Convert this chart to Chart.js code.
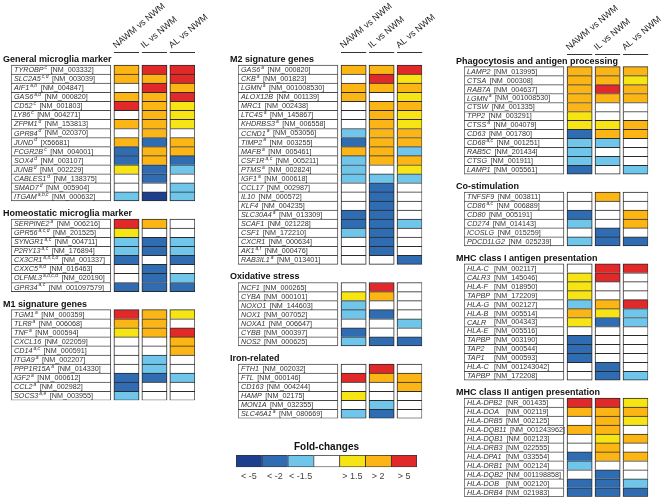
<!DOCTYPE html>
<html>
<head>
<meta charset="utf-8">
<title>Microglia gene expression fold-changes</title>
<script src="https://cdn.jsdelivr.net/npm/chart.js@4.4.1/dist/chart.umd.min.js"></script>
<style>
  html, body { margin: 0; padding: 0; background: #fff; }
  #wrap { position: relative; width: 670px; height: 499px; overflow: hidden; }
  #wrap canvas { position: absolute; }
</style>
</head>
<body>
<div id="wrap">
  <canvas id="col1" width="225" height="499" style="left:0;top:0"></canvas>
  <canvas id="col2" width="222" height="499" style="left:225px;top:0"></canvas>
  <canvas id="col3" width="223" height="499" style="left:447px;top:0"></canvas>
  <canvas id="legend" width="200" height="52" style="left:226px;top:436px"></canvas>
</div>
<script>
// Fold-change classes: -3 = < -5, -2 = < -2, -1 = < -1.5, 0 = unchanged, 1 = > 1.5, 2 = > 2, 3 = > 5
const comparisons = ['NAWM vs NWM', 'IL vs NWM', 'AL vs NWM'];
const foldClasses = [-3, -2, -1, 0, 1, 2, 3];
const foldLabels = ['< -5', '< -2', '< -1.5', '', '> 1.5', '> 2', '> 5'];
const foldColors = ['#1e3f8e', '#2f6cb2', '#6fc5ea', '#ffffff', '#f6e414', '#fbb616', '#e1292a'];

// General microglia marker
const generalGenes = ['TYROBP', 'SLC2A5', 'AIF1', 'GAS6', 'CD52', 'LY86', 'ZFPM1', 'GPR84', 'JUND', 'FCGR2B', 'SOX4', 'JUNB', 'CABLES1', 'SMAD7', 'ITGAM'];
const generalSup = ['c', 'c,d', 'a,b', 'a,d', 'c', 'c', 'd', 'd', 'd', 'c', 'd', 'd', 'd', 'd', 'a,b,c'];
const generalAcc = ['NM_003332', 'NM_003039', 'NM_004847', 'NM_000820', 'NM_001803', 'NM_004271', 'NM_153813', 'NM_020370', 'X56681', 'NM_004001', 'NM_003107', 'NM_002229', 'NM_138375', 'NM_005904', 'NM_000632'];
const generalNAWM = [2, 2, 0, 2, 3, 0, 2, 0, 2, -2, -2, 1, 0, 0, -1];
const generalIL = [3, 2, 3, 2, 2, 2, 2, 2, -2, 2, 2, -2, -2, 0, -3];
const generalAL = [3, 3, 2, 3, 1, 1, 1, 0, 2, 2, -2, -1, 0, -1, -1];

// Homeostatic microglia marker
const homeoGenes = ['SERPINE2', 'GPR56', 'SYNGR1', 'P2RY13', 'CX3CR1', 'CXXC5', 'OLFML3', 'GPR34'];
const homeoSup = ['a', 'a,c,d', 'a,c', 'a,c', 'a,b,c,d', 'a,d', 'a,b,c,d', 'a,c'];
const homeoAcc = ['NM_006216', 'NM_201525', 'NM_004711', 'NM_176894', 'NM_001337', 'NM_016463', 'NM_020190', 'NM_001097579'];
const homeoNAWM = [3, 1, -1, -1, -2, 0, 0, -2];
const homeoIL = [2, 0, -2, -2, 0, -2, -2, -2];
const homeoAL = [0, 0, -1, -1, -2, 0, -1, -2];

// M1 signature genes
const m1Genes = ['TGM1', 'TLR8', 'TNF', 'CXCL16', 'CD14', 'ITGA9', 'PPP1R15A', 'IGF2', 'CCL2', 'SOCS3'];
const m1Sup = ['a', 'a', 'a', '', 'a,c', 'a', 'a', 'a', 'a', 'a,e'];
const m1Acc = ['NM_000359', 'NM_006068', 'NM_000594', 'NM_022059', 'NM_000591', 'NM_002207', 'NM_014330', 'NM_000612', 'NM_002982', 'NM_003955'];
const m1NAWM = [3, 2, 1, 0, 0, 0, 0, -2, -2, -1];
const m1IL = [2, 2, 2, 0, 0, -1, -1, -2, 0, 0];
const m1AL = [1, 0, 3, 2, 2, 0, 0, -1, 0, 0];

// M2 signature genes
const m2Genes = ['GAS6', 'CKB', 'LGMN', 'ALOX12B', 'MRC1', 'LTC4S', 'KHDRBS3', 'CCND1', 'TIMP2', 'MAFB', 'CSF1R', 'PTMS', 'IGF1', 'CCL17', 'IL10', 'KLF4', 'SLC30A4', 'SCAF1', 'CSF1', 'CXCR1', 'AK1', 'RAB3IL1'];
const m2Sup = ['a', 'a', 'a', '', '', 'a', 'a', 'a', 'a', 'a', 'a,c', 'a', 'a', '', '', '', 'a', '', '', '', 'a,f', 'a'];
const m2Acc = ['NM_000820', 'NM_001823', 'NM_001008530', 'NM_001139', 'NM_002438', 'NM_145867', 'NM_006558', 'NM_053056', 'NM_003255', 'NM_005461', 'NM_005211', 'NM_002824', 'NM_000618', 'NM_002987', 'NM_000572', 'NM_004235', 'NM_013309', 'NM_021228', 'NM_172210', 'NM_000634', 'NM_000476', 'NM_013401'];
const m2NAWM = [2, 0, 2, 2, 0, 0, 0, -1, -2, 2, -1, -1, -1, 0, 0, 0, -2, -2, -1, 0, 0, 0];
const m2IL = [2, 3, 2, 0, 2, 2, 2, 2, 2, 2, 2, 0, -1, -2, -2, -2, -2, -2, -2, -2, -2, 0];
const m2AL = [3, 1, 2, 1, 2, 1, 1, 2, 2, -1, 2, 1, -1, 0, 0, 0, 0, -1, 0, 0, 0, -2];

// Oxidative stress
const oxGenes = ['NCF1', 'CYBA', 'NOXO1', 'NOX1', 'NOXA1', 'CYBB', 'NOS2'];
const oxSup = ['', '', '', '', '', '', ''];
const oxAcc = ['NM_000265', 'NM_000101', 'NM_144603', 'NM_007052', 'NM_006647', 'NM_000397', 'NM_000625'];
const oxNAWM = [0, 1, -1, -1, 0, -2, -1];
const oxIL = [3, 2, 0, -2, 0, 0, -2];
const oxAL = [0, 0, 0, 0, -1, 0, -2];

// Iron-related
const ironGenes = ['FTH1', 'FTL', 'CD163', 'HAMP', 'MON1A', 'SLC46A1'];
const ironSup = ['', '', '', '', '', 'a'];
const ironAcc = ['NM_002032', 'NM_000146', 'NM_004244', 'NM_02175', 'NM_032355', 'NM_080669'];
const ironNAWM = [0, 3, 0, 1, 0, -1];
const ironIL = [3, 2, 0, 0, -1, -2];
const ironAL = [0, 2, 2, 0, 0, 0];

// Phagocytosis and antigen processing
const phagoGenes = ['LAMP2', 'CTSA', 'RAB7A', 'LGMN', 'CTSW', 'TPP2', 'CTSS', 'CD63', 'CD68', 'RAB5C', 'CTSG', 'LAMP1'];
const phagoSup = ['', '', '', 'a', '', '', 'a', '', 'a,c', '', '', ''];
const phagoAcc = ['NM_013995', 'NM_000308', 'NM_004637', 'NM_001008530', 'NM_001335', 'NM_003291', 'NM_004079', 'NM_001780', 'NM_001251', 'NM_201434', 'NM_001911', 'NM_005561'];
const phagoNAWM = [2, 2, 2, 2, 2, 1, 1, -2, -1, -1, -1, -2];
const phagoIL = [2, 2, 3, 2, 0, 0, 1, 2, -1, 0, -1, 0];
const phagoAL = [2, 1, 2, 2, 0, 0, 2, 2, 0, 0, 0, -1];

// Co-stimulation
const costimGenes = ['TNFSF9', 'CD86', 'CD80', 'CD274', 'ICOSLG', 'PDCD1LG2'];
const costimSup = ['', 'a,c', '', '', '', ''];
const costimAcc = ['NM_003811', 'NM_006889', 'NM_005191', 'NM_014143', 'NM_015259', 'NM_025239'];
const costimNAWM = [0, 0, -2, -1, 0, -1];
const costimIL = [2, 0, 0, 0, -2, -2];
const costimAL = [0, 0, 2, 2, 0, -2];

// MHC class I antigen presentation
const mhc1Genes = ['HLA-C', 'CALR3', 'HLA-F', 'TAPBP', 'HLA-G', 'HLA-B', 'CALR', 'HLA-E', 'TAPBP', 'TAP2', 'TAP1', 'HLA-C', 'TAPBP'];
const mhc1Sup = ['', '', '', '', '', '', '', '', '', '', '', '', ''];
const mhc1Acc = ['NM_002117', 'NM_145046', 'NM_018950', 'NM_172209', 'NM_002127', 'NM_005514', 'NM_004343', 'NM_005516', 'NM_003190', 'NM_000544', 'NM_000593', 'NM_001243042', 'NM_172208'];
const mhc1NAWM = [0, 1, 1, 1, -1, 2, 1, 0, -2, -2, -2, 0, 0];
const mhc1IL = [3, 3, 0, 0, 2, 1, -2, 0, 0, 0, 0, -2, -2];
const mhc1AL = [3, 0, 0, 0, 3, -1, -1, 0, 0, 0, 0, 0, -1];

// MHC class II antigen presentation
const mhc2Genes = ['HLA-DPB2', 'HLA-DOA', 'HLA-DRB5', 'HLA-DQB11', 'HLA-DQB1', 'HLA-DRB3', 'HLA-DPA1', 'HLA-DRB1', 'HLA-DQB2', 'HLA-DOB', 'HLA-DRB4'];
const mhc2Sup = ['', '', '', '', '', '', '', '', '', '', ''];
const mhc2Acc = ['NR_001435', 'NM_002119', 'NM_002125', 'NM_001243962', 'NM_002123', 'NM_022555', 'NM_033554', 'NM_002124', 'NM_001198858', 'NM_002120', 'NM_021983'];
const mhc2NAWM = [3, 2, 0, 2, 0, 0, -2, -1, 0, -2, -2];
const mhc2IL = [3, 2, 2, 2, 1, 2, 2, 0, -2, -2, -2];
const mhc2AL = [1, 2, 1, 0, 2, 0, 2, 0, 0, -1, -2];

const FONT = '"Liberation Sans", Arial, sans-serif';
// x scale in cell-pitch units: label box from BOX_FROM to BOX_TO, cell j spans j .. j + CELL
const BOX_FROM = -3.68;
const BOX_TO = -0.11;
const CELL = 0.9;

function colorFor(level) {
    return foldColors[foldClasses.indexOf(level)] || '#ffffff';
}

function section(title, genes, sup, acc, nawm, il, al, accAt) {
    return { title, genes, sup, acc, values: [nawm, il, al], accAt };
}

function buildColumn(canvasId, sections, pad) {
    // one row per gene, plus a title row per section and a gap row between sections
    const rows = [];
    sections.forEach((s, k) => {
        if (k > 0) rows.push({ kind: 'gap' });
        rows.push({ kind: 'title', text: s.title });
        s.genes.forEach((g, i) => {
            rows.push({ kind: 'gene', gene: g, sup: s.sup[i], acc: s.acc[i], accAt: s.accAt, values: s.values.map(v => v[i]) });
        });
    });

    const isGene = i => rows[i] !== undefined && rows[i].kind === 'gene';
    const edge = ctx => ({ top: 1, left: 1, right: 1, bottom: isGene(ctx.dataIndex) && !isGene(ctx.dataIndex + 1) ? 1 : 0 });

    const datasets = [{
        label: 'genes',
        data: rows.map(r => r.kind === 'gene' ? [BOX_FROM, BOX_TO] : null),
        backgroundColor: '#ffffff',
        borderColor: '#4a4a4a',
        borderWidth: edge
    }];
    comparisons.forEach((c, j) => {
        datasets.push({
            label: c,
            data: rows.map(r => r.kind === 'gene' ? [j, j + CELL] : null),
            backgroundColor: ctx => rows[ctx.dataIndex].kind === 'gene' ? colorFor(rows[ctx.dataIndex].values[j]) : '#ffffff',
            borderColor: '#2a2a2a',
            borderWidth: edge
        });
    });

    const textPlugin = {
        id: 'geneText',
        afterDatasetsDraw(chart) {
            const ctx = chart.ctx;
            const xs = chart.scales.x;
            const ys = chart.scales.y;
            const boxLeft = xs.getPixelForValue(BOX_FROM);
            const pitch = ys.getPixelForValue(1) - ys.getPixelForValue(0);
            ctx.save();
            ctx.textAlign = 'left';
            ctx.textBaseline = 'middle';
            rows.forEach((r, i) => {
                const y = ys.getPixelForValue(i);
                if (r.kind === 'title') {
                    ctx.fillStyle = '#111';
                    ctx.font = 'bold 9px ' + FONT;
                    ctx.fillText(r.text, boxLeft - 8, y - 1);
                } else if (r.kind === 'gene') {
                    ctx.fillStyle = '#333';
                    let x = boxLeft + 3;
                    ctx.font = 'italic 7.2px ' + FONT;
                    ctx.fillText(r.gene, x, y + 0.5);
                    x += ctx.measureText(r.gene).width;
                    if (r.sup) {
                        ctx.font = 'italic 5px ' + FONT;
                        ctx.fillText(r.sup, x + 1, y - 2);
                        x += ctx.measureText(r.sup).width + 1;
                    }
                    x += 3.5;
                    if (r.accAt) x = Math.max(x, boxLeft + r.accAt);
                    ctx.font = '7.2px ' + FONT;
                    ctx.fillText('[' + r.acc + ']', x, y + 0.5);
                }
            });

            // comparison headers above the first section
            const lineY = Math.round(ys.getPixelForValue(0) - pitch / 2 - 4) + 0.5;
            ctx.strokeStyle = '#333';
            ctx.lineWidth = 1;
            comparisons.forEach((c, j) => {
                const x0 = xs.getPixelForValue(j);
                const x1 = xs.getPixelForValue(j + CELL);
                ctx.beginPath();
                ctx.moveTo(x0, lineY);
                ctx.lineTo(x1, lineY);
                ctx.stroke();
                ctx.save();
                ctx.translate(x0 + 2, lineY - 4);
                ctx.rotate(-40 * Math.PI / 180);
                ctx.font = '9px ' + FONT;
                ctx.fillStyle = '#1a1a1a';
                ctx.textBaseline = 'alphabetic';
                ctx.fillText(c, 0, 0);
                ctx.restore();
            });
            ctx.restore();
        }
    };

    return new Chart(document.getElementById(canvasId), {
        type: 'bar',
        data: { labels: rows.map((r, i) => r.gene || r.text || 'gap' + i), datasets },
        options: {
            indexAxis: 'y',
            responsive: false,
            animation: false,
            layout: { padding: pad },
            datasets: {
                bar: { grouped: false, barPercentage: 1, categoryPercentage: 1, borderSkipped: false }
            },
            plugins: { legend: { display: false }, tooltip: { enabled: false } },
            scales: {
                x: { type: 'linear', min: BOX_FROM, max: 2 + CELL, display: false },
                y: { type: 'category', display: false }
            }
        },
        plugins: [textPlugin]
    });
}

buildColumn('col1', [
    section('General microglia marker', generalGenes, generalSup, generalAcc, generalNAWM, generalIL, generalAL),
    section('Homeostatic microglia marker', homeoGenes, homeoSup, homeoAcc, homeoNAWM, homeoIL, homeoAL),
    section('M1 signature genes', m1Genes, m1Sup, m1Acc, m1NAWM, m1IL, m1AL)
], { left: 11, right: 30, top: 56, bottom: 98.7 });

buildColumn('col2', [
    section('M2 signature genes', m2Genes, m2Sup, m2Acc, m2NAWM, m2IL, m2AL),
    section('Oxidative stress', oxGenes, oxSup, oxAcc, oxNAWM, oxIL, oxAL),
    section('Iron-related', ironGenes, ironSup, ironAcc, ironNAWM, ironIL, ironAL)
], { left: 13, right: 24.8, top: 56, bottom: 80.6 });

buildColumn('col3', [
    section('Phagocytosis and antigen processing', phagoGenes, phagoSup, phagoAcc, phagoNAWM, phagoIL, phagoAL),
    section('Co-stimulation', costimGenes, costimSup, costimAcc, costimNAWM, costimIL, costimAL),
    section('MHC class I antigen presentation', mhc1Genes, mhc1Sup, mhc1Acc, mhc1NAWM, mhc1IL, mhc1AL, 30),
    section('MHC class II antigen presentation', mhc2Genes, mhc2Sup, mhc2Acc, mhc2NAWM, mhc2IL, mhc2AL, 42)
], { left: 17, right: 21.8, top: 57.7, bottom: 2.3 });

// Fold-change colour key
new Chart(document.getElementById('legend'), {
    type: 'bar',
    data: {
        labels: foldLabels,
        datasets: [{
            data: foldClasses.map(() => 1),
            backgroundColor: foldColors,
            borderColor: '#333',
            borderWidth: ctx => ({ left: 1, top: 1, bottom: 1, right: ctx.dataIndex === foldClasses.length - 1 ? 1 : 0 }),
            borderSkipped: false,
            barPercentage: 1,
            categoryPercentage: 1
        }]
    },
    options: {
        responsive: false,
        animation: false,
        layout: { padding: { left: 10, right: 9, top: 0, bottom: 2 } },
        plugins: {
            legend: { display: false },
            tooltip: { enabled: false },
            title: {
                display: true,
                text: 'Fold-changes',
                color: '#111',
                font: { family: FONT, size: 10, weight: 'bold' },
                padding: { top: 5, bottom: 2 }
            }
        },
        scales: {
            x: {
                grid: { display: false, drawTicks: false },
                border: { display: false },
                ticks: { color: '#444', font: { family: FONT, size: 9 }, padding: 4, maxRotation: 0, minRotation: 0, autoSkip: false }
            },
            y: { display: false, min: 0, max: 1 }
        }
    }
});
</script>
</body>
</html>
